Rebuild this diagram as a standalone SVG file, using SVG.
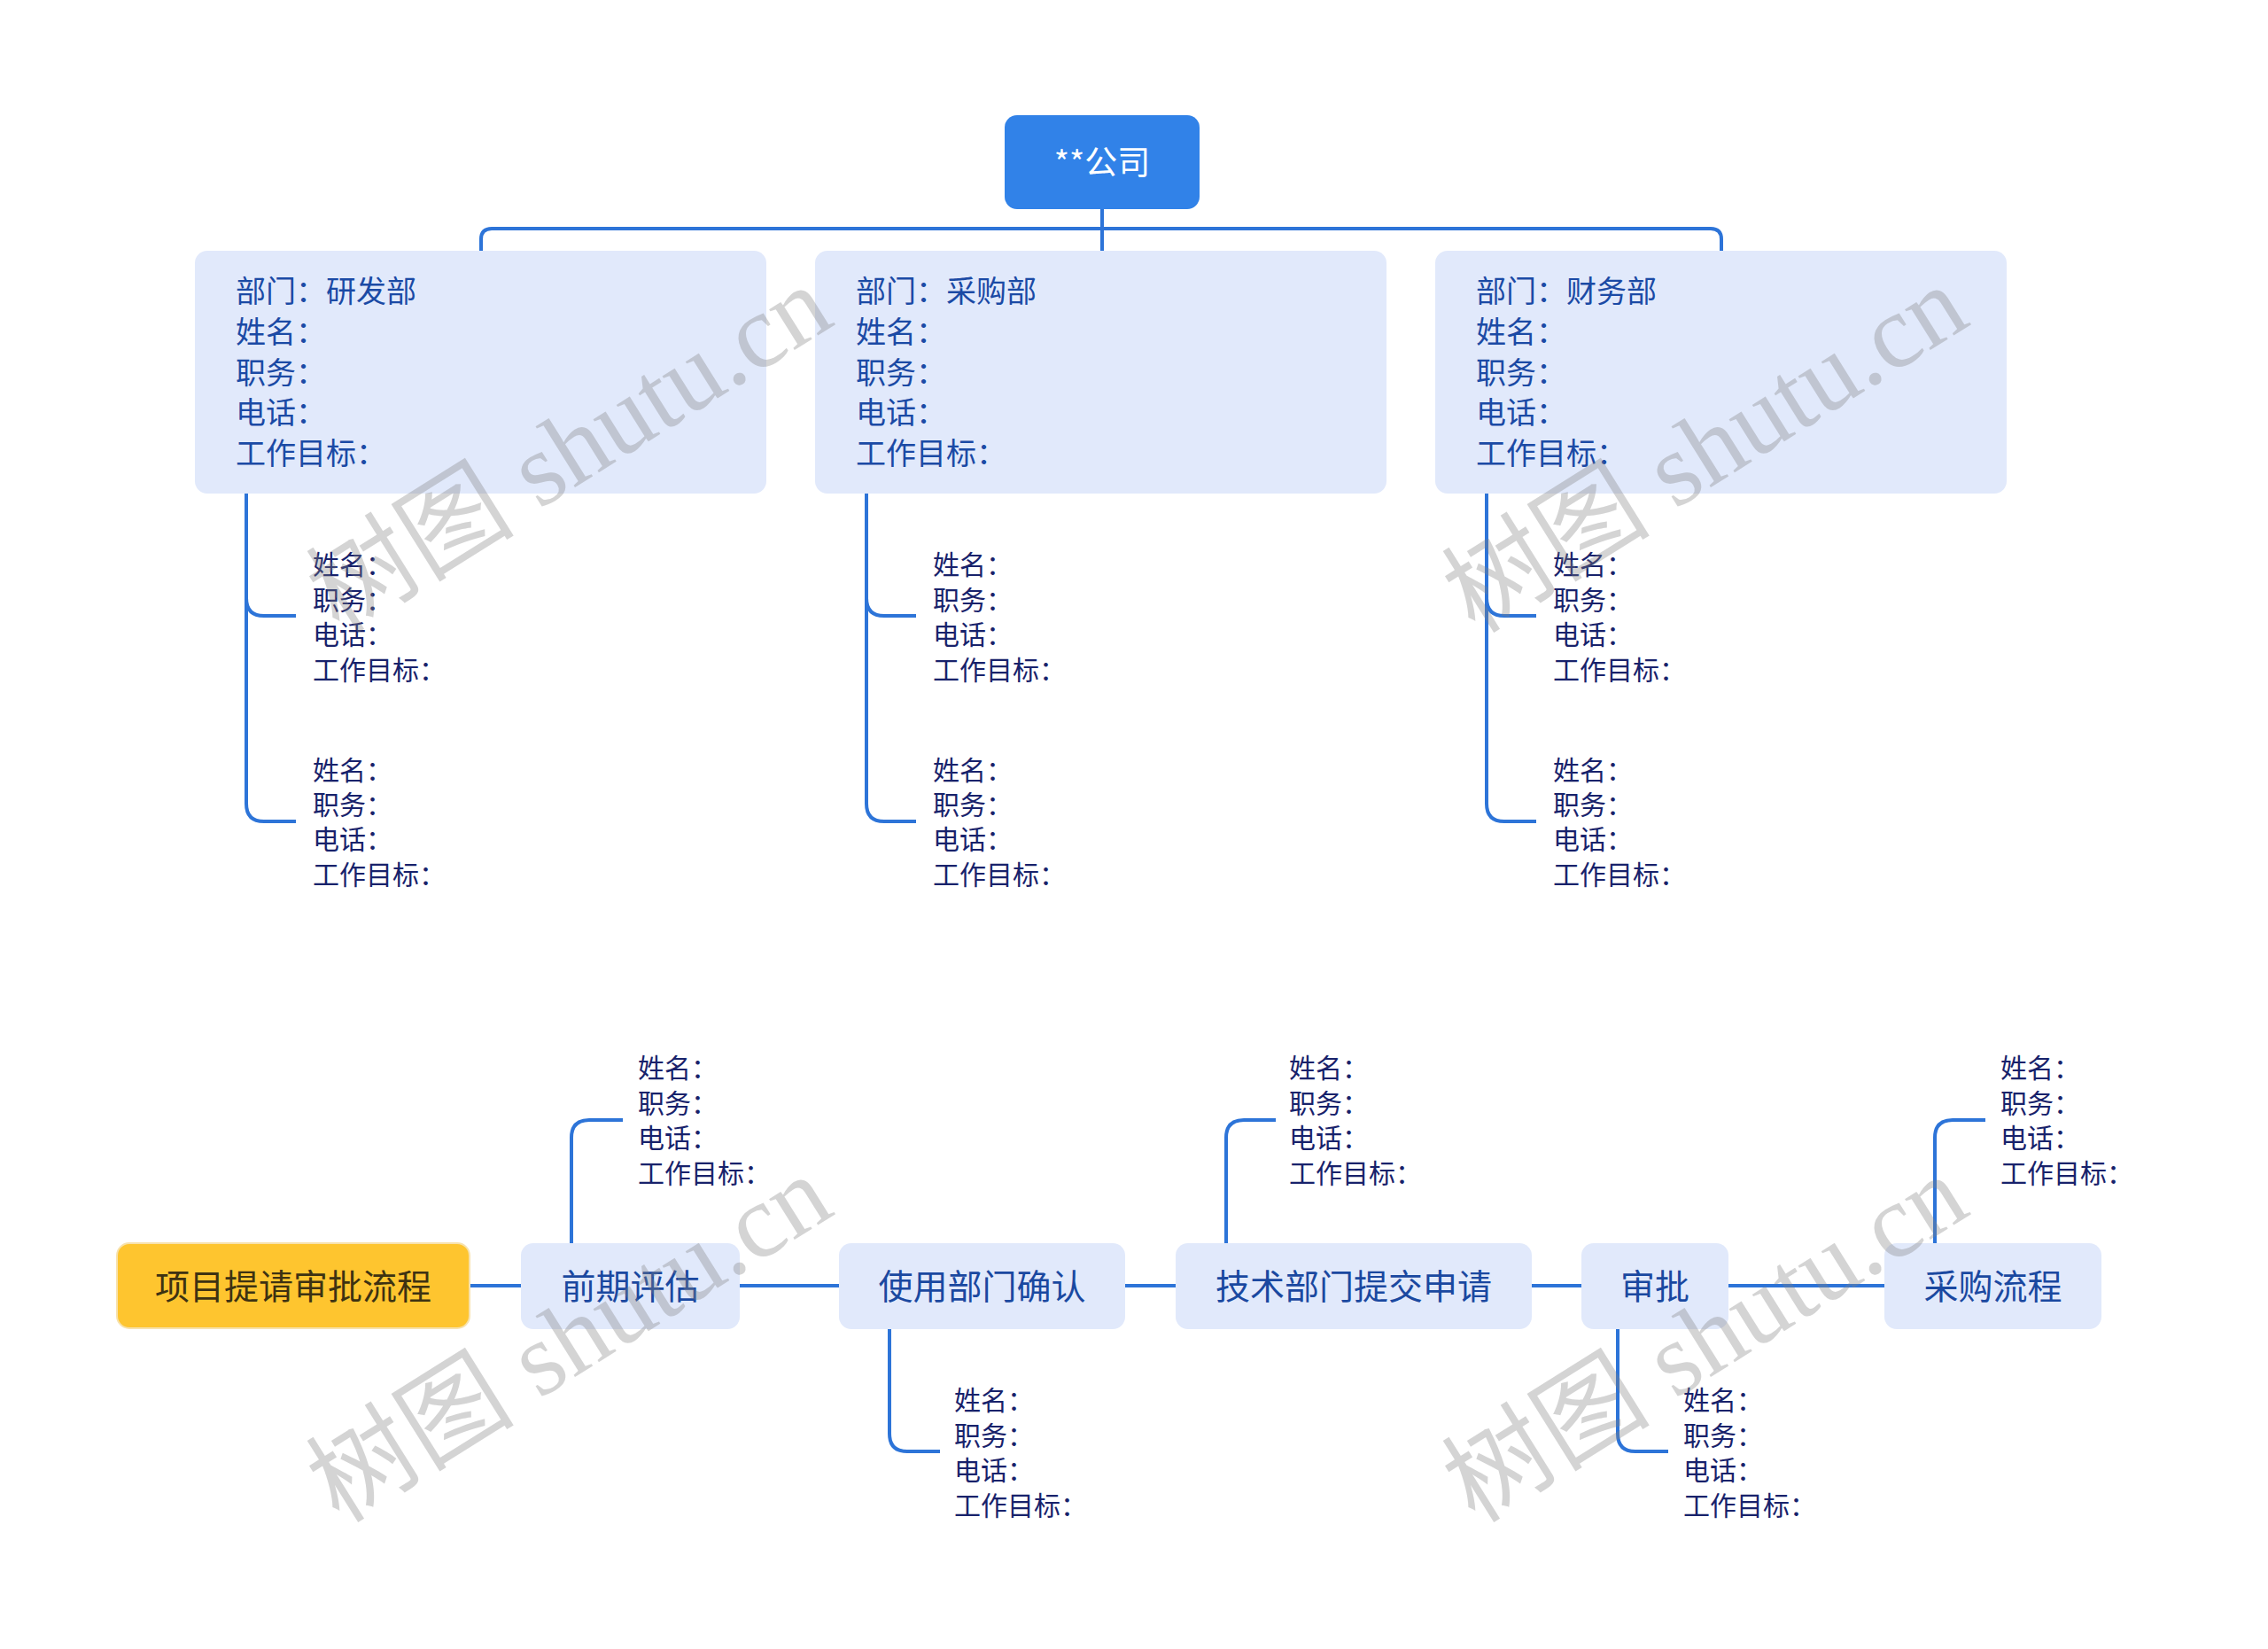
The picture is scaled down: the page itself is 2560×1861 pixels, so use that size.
<svg xmlns="http://www.w3.org/2000/svg" width="2560" height="1861" viewBox="0 0 2560 1861">
<style>
.cn{fill:none;stroke:#2d74d8;stroke-width:4;stroke-linecap:butt;stroke-linejoin:round}
.root{fill:#3182e8}
.dept{fill:#e1e9fb}
.flow{fill:#e1e9fb}
.start{fill:#fec52f;stroke:#f7e2ad;stroke-width:2}
.t{font-family:"Noto Sans CJK SC","Noto Sans",sans-serif}
.rt{font-size:37px;fill:#ffffff}
.dt{font-size:34px;fill:#1b4aa5}
.ct{font-size:30px;fill:#18226b}
.ft{font-size:39px;fill:#1a48a0}
.st{font-size:39px;fill:#3d3212}
.wm{font-family:"Liberation Serif","Noto Sans CJK SC",serif;font-size:118px;fill:#808080;fill-opacity:0.34}
</style>
<rect width="2560" height="1861" fill="#ffffff"/>
<g id="connectors">
<path class="cn" d="M1244 236 V283"/>
<path class="cn" d="M543 283 V270 Q543 258 555 258 H1931 Q1943 258 1943 270 V283"/>
<path class="cn" d="M278 557 V907 Q278 927 298 927 H334 M278 675 Q278 695 298 695 H334"/>
<path class="cn" d="M978 557 V907 Q978 927 998 927 H1034 M978 675 Q978 695 998 695 H1034"/>
<path class="cn" d="M1678 557 V907 Q1678 927 1698 927 H1734 M1678 675 Q1678 695 1698 695 H1734"/>
<path class="cn" d="M530 1451 H588 M835 1451 H947 M1270 1451 H1327 M1729 1451 H1785 M1951 1451 H2127"/>
<path class="cn" d="M645 1403 V1284 Q645 1264 665 1264 H703"/>
<path class="cn" d="M1384 1403 V1284 Q1384 1264 1404 1264 H1440"/>
<path class="cn" d="M2184 1403 V1284 Q2184 1264 2204 1264 H2241"/>
<path class="cn" d="M1004 1500 V1618 Q1004 1638 1024 1638 H1061"/>
<path class="cn" d="M1826 1500 V1618 Q1826 1638 1846 1638 H1883"/>
</g>
<g id="root">
<rect class="root" x="1134" y="130" width="220" height="106" rx="14"/>
<text class="t rt" x="1244" y="197" text-anchor="middle">**公司</text>
</g>
<g id="dept1">
<rect class="dept" x="220" y="283" width="645" height="274" rx="14"/>
<text class="t dt" x="266" y="341">部门：研发部</text>
<text class="t dt" x="266" y="387">姓名：</text>
<text class="t dt" x="266" y="433">职务：</text>
<text class="t dt" x="266" y="478">电话：</text>
<text class="t dt" x="266" y="524">工作目标：</text>
</g>
<g id="dept2">
<rect class="dept" x="920" y="283" width="645" height="274" rx="14"/>
<text class="t dt" x="966" y="341">部门：采购部</text>
<text class="t dt" x="966" y="387">姓名：</text>
<text class="t dt" x="966" y="433">职务：</text>
<text class="t dt" x="966" y="478">电话：</text>
<text class="t dt" x="966" y="524">工作目标：</text>
</g>
<g id="dept3">
<rect class="dept" x="1620" y="283" width="645" height="274" rx="14"/>
<text class="t dt" x="1666" y="341">部门：财务部</text>
<text class="t dt" x="1666" y="387">姓名：</text>
<text class="t dt" x="1666" y="433">职务：</text>
<text class="t dt" x="1666" y="478">电话：</text>
<text class="t dt" x="1666" y="524">工作目标：</text>
</g>
<g id="d1c1"><text class="t ct" x="353" y="648">姓名：</text><text class="t ct" x="353" y="688">职务：</text><text class="t ct" x="353" y="727">电话：</text><text class="t ct" x="353" y="767">工作目标：</text></g>
<g id="d1c2"><text class="t ct" x="353" y="880">姓名：</text><text class="t ct" x="353" y="919">职务：</text><text class="t ct" x="353" y="958">电话：</text><text class="t ct" x="353" y="998">工作目标：</text></g>
<g id="d2c1"><text class="t ct" x="1053" y="648">姓名：</text><text class="t ct" x="1053" y="688">职务：</text><text class="t ct" x="1053" y="727">电话：</text><text class="t ct" x="1053" y="767">工作目标：</text></g>
<g id="d2c2"><text class="t ct" x="1053" y="880">姓名：</text><text class="t ct" x="1053" y="919">职务：</text><text class="t ct" x="1053" y="958">电话：</text><text class="t ct" x="1053" y="998">工作目标：</text></g>
<g id="d3c1"><text class="t ct" x="1753" y="648">姓名：</text><text class="t ct" x="1753" y="688">职务：</text><text class="t ct" x="1753" y="727">电话：</text><text class="t ct" x="1753" y="767">工作目标：</text></g>
<g id="d3c2"><text class="t ct" x="1753" y="880">姓名：</text><text class="t ct" x="1753" y="919">职务：</text><text class="t ct" x="1753" y="958">电话：</text><text class="t ct" x="1753" y="998">工作目标：</text></g>
<g id="start">
<rect class="start" x="132" y="1403" width="398" height="96" rx="14"/>
<text class="t st" x="331" y="1466" text-anchor="middle">项目提请审批流程</text>
</g>
<g id="f1">
<rect class="flow" x="588" y="1403" width="247" height="97" rx="14"/>
<text class="t ft" x="711.5" y="1466" text-anchor="middle">前期评估</text>
</g>
<g id="f2">
<rect class="flow" x="947" y="1403" width="323" height="97" rx="14"/>
<text class="t ft" x="1108.5" y="1466" text-anchor="middle">使用部门确认</text>
</g>
<g id="f3">
<rect class="flow" x="1327" y="1403" width="402" height="97" rx="14"/>
<text class="t ft" x="1528" y="1466" text-anchor="middle">技术部门提交申请</text>
</g>
<g id="f4">
<rect class="flow" x="1785" y="1403" width="166" height="97" rx="14"/>
<text class="t ft" x="1868" y="1466" text-anchor="middle">审批</text>
</g>
<g id="f5">
<rect class="flow" x="2127" y="1403" width="245" height="97" rx="14"/>
<text class="t ft" x="2249.5" y="1466" text-anchor="middle">采购流程</text>
</g>
<g id="f1c"><text class="t ct" x="720" y="1216">姓名：</text><text class="t ct" x="720" y="1256">职务：</text><text class="t ct" x="720" y="1295">电话：</text><text class="t ct" x="720" y="1335">工作目标：</text></g>
<g id="f3c"><text class="t ct" x="1455" y="1216">姓名：</text><text class="t ct" x="1455" y="1256">职务：</text><text class="t ct" x="1455" y="1295">电话：</text><text class="t ct" x="1455" y="1335">工作目标：</text></g>
<g id="f5c"><text class="t ct" x="2258" y="1216">姓名：</text><text class="t ct" x="2258" y="1256">职务：</text><text class="t ct" x="2258" y="1295">电话：</text><text class="t ct" x="2258" y="1335">工作目标：</text></g>
<g id="f2c"><text class="t ct" x="1077" y="1591">姓名：</text><text class="t ct" x="1077" y="1631">职务：</text><text class="t ct" x="1077" y="1670">电话：</text><text class="t ct" x="1077" y="1710">工作目标：</text></g>
<g id="f4c"><text class="t ct" x="1900" y="1591">姓名：</text><text class="t ct" x="1900" y="1631">职务：</text><text class="t ct" x="1900" y="1670">电话：</text><text class="t ct" x="1900" y="1710">工作目标：</text></g>
<g id="watermark">
<text class="wm" x="642" y="547" text-anchor="middle" transform="rotate(-32 642 506)">树图 shutu.cn</text>
<text class="wm" x="1924" y="547" text-anchor="middle" transform="rotate(-32 1924 506)">树图 shutu.cn</text>
<text class="wm" x="642" y="1551" text-anchor="middle" transform="rotate(-32 642 1510)">树图 shutu.cn</text>
<text class="wm" x="1924" y="1551" text-anchor="middle" transform="rotate(-32 1924 1510)">树图 shutu.cn</text>
</g>
</svg>
